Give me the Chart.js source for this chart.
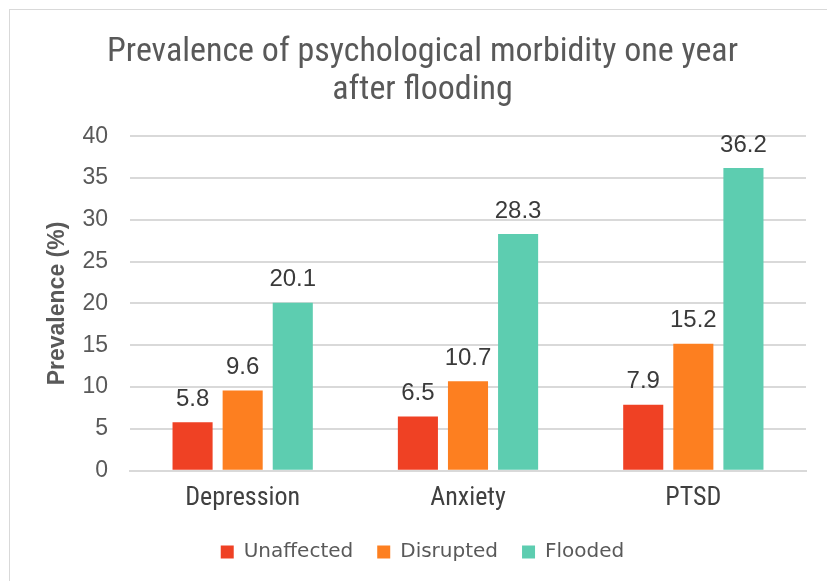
<!DOCTYPE html>
<html>
<head>
<meta charset="utf-8">
<script src="https://cdn.jsdelivr.net/npm/chart.js@4/dist/chart.umd.min.js"></script>
<style>
  html, body { margin: 0; padding: 0; background: #fff; }
  #wrap { position: relative; width: 827px; height: 581px; }
  #frame { position: absolute; left: 9px; top: 9px; right: -5px; bottom: -5px; border: 1px solid #d9d9d9; }
  canvas { position: absolute; left: 0; top: 0; }
</style>
</head>
<body>
<div id="wrap">
  <div id="frame"></div>
  <canvas id="myChart" width="827" height="581"></canvas>
</div>
<script>
const categories = ['Depression', 'Anxiety', 'PTSD'];
const unaffected = [5.8, 6.5, 7.9];
const disrupted = [9.6, 10.7, 15.2];
const flooded = [20.1, 28.3, 36.2];
const yTicks = [0, 5, 10, 15, 20, 25, 30, 35, 40];

const narrow = '"Roboto Condensed", "Liberation Sans Narrow", "Liberation Sans", sans-serif';
const arial = '"Liberation Sans", Arial, sans-serif';
const wide = '"DejaVu Sans", Verdana, sans-serif';

// draws the value above each bar
const valueLabels = {
  id: 'valueLabels',
  afterDatasetsDraw(chart) {
    const ctx = chart.ctx;
    ctx.save();
    ctx.font = '24px ' + arial;
    ctx.fillStyle = '#3a3a3a';
    ctx.textAlign = 'center';
    ctx.textBaseline = 'bottom';
    chart.data.datasets.forEach((ds, i) => {
      chart.getDatasetMeta(i).data.forEach((bar, j) => {
        ctx.fillText(ds.data[j].toFixed(1), bar.x, bar.y - 11);
      });
    });
    ctx.restore();
  }
};

const ctx = document.getElementById('myChart').getContext('2d');
const myChart = new Chart(ctx, {
  type: 'bar',
  data: {
    labels: categories,
    datasets: [
      { label: 'Unaffected', data: unaffected, backgroundColor: '#EF4124' },
      { label: 'Disrupted', data: disrupted, backgroundColor: '#FD7F20' },
      { label: 'Flooded', data: flooded, backgroundColor: '#5DCDB0' },
    ],
  },
  options: {
    responsive: false,
    animation: false,
    layout: { padding: { left: 39, right: 21, top: 33, bottom: 9 } },
    datasets: { bar: { categoryPercentage: 0.667, barPercentage: 0.8 } },
    plugins: {
      title: {
        display: true,
        text: ['Prevalence of psychological morbidity one year', 'after flooding'],
        color: '#595959',
        font: { family: narrow, size: 34, weight: 'normal', lineHeight: 1.12 },
        padding: { top: 0, bottom: 27 },
      },
      legend: {
        position: 'bottom',
        labels: {
          color: '#595959',
          font: { family: wide, size: 20 },
          boxWidth: 13,
          boxHeight: 13,
          padding: 24,
        },
      },
      tooltip: { enabled: false },
    },
    scales: {
      x: {
        grid: { display: false },
        border: { color: '#d9d9d9', width: 2 },
        ticks: { color: '#404040', font: { family: narrow, size: 26 }, padding: 4 },
      },
      y: {
        min: 0,
        max: 40,
        afterBuildTicks: (axis) => { axis.ticks = yTicks.map((v) => ({ value: v })); },
        afterFit: (axis) => { axis.width = 91; },
        grid: { color: '#d9d9d9', lineWidth: 2, drawTicks: false },
        border: { display: false },
        ticks: { color: '#595959', font: { family: arial, size: 23 }, padding: 22 },
        title: {
          display: true,
          text: 'Prevalence (%)',
          color: '#595959',
          font: { family: arial, size: 23, weight: 'bold', lineHeight: 1.2 },
          padding: { top: 5, bottom: 7 },
        },
      },
    },
  },
  plugins: [valueLabels],
});
</script>
</body>
</html>
